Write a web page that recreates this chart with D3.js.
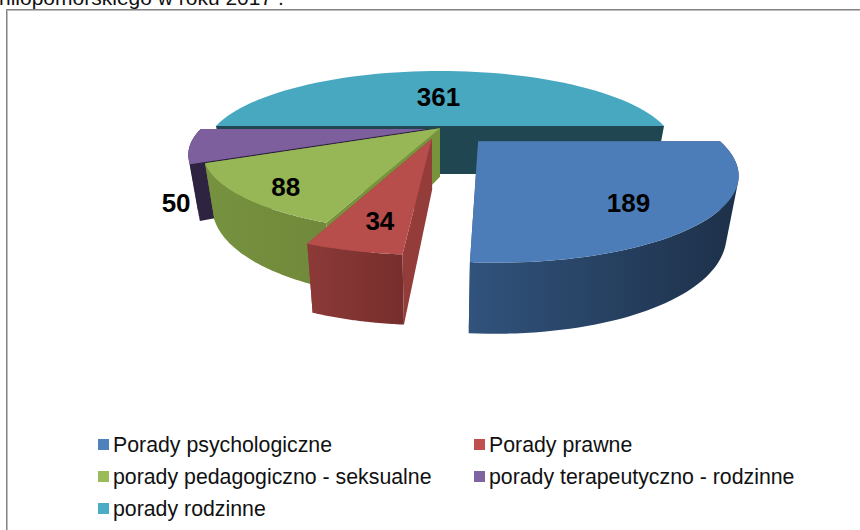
<!DOCTYPE html>
<html>
<head>
<meta charset="utf-8">
<script src="https://cdn.jsdelivr.net/npm/d3@7"></script>
<style>
html,body{margin:0;padding:0;background:#fff;overflow:hidden}
text{font-family:"Liberation Sans",Arial,sans-serif}
</style>
</head>
<body>
<svg id="chart" width="860" height="530"></svg>
<script>
const categories = ["Porady psychologiczne","Porady prawne","porady pedagogiczno - seksualne","porady terapeutyczno - rodzinne","porady rodzinne"];
const values = [189,34,88,50,361];
const topColors = ["#4c7db8","#b84e4c","#97b757","#7c5f9c","#47a8c0"];
const legendColors = ["#4f81bd","#c0504d","#9bbb59","#8064a2","#4bacc6"];
const wallLeft = ["#31537c","#8c3a38","#76923f","#372a4b","#1f4651"];
const wallRight = ["#1d3049","#762e2c","#71883a","#372a4b","#1f4651"];
const radialColors = ["#31537c","#933c3a","#77933c","#2e2340","#1f4651"];
const explodeU = [0.16,-0.035,0,-0.055,0];
const explodeV = [0.2,0.17,0.03,0.04,0];
const sliceRadius = [1.015,1,1,1,1];
const labelRadius = [0.8,0.8,0.8,1.1,0.47];
const labelDx = [-18,6,-4,12,-1.5];
const labelDy = [3,0,7,55,0];
const titleFragment = "nilopomorskiego w roku 2017 .";

const svg = d3.select("#chart");
svg.append("text").attr("x",-1).attr("y",5).attr("font-size",21).attr("fill","#111").text(titleFragment);
svg.append("rect").attr("x",7.5).attr("y",10.5).attr("width",870).attr("height",540)
  .attr("fill","none").attr("stroke","#bdbdbd").attr("stroke-width",1);
svg.append("rect").attr("x",6.5).attr("y",9.5).attr("width",870).attr("height",540)
  .attr("fill","none").attr("stroke","#858585").attr("stroke-width",1);

const cx=440, cy=126, R=224, Q=71.5, k=0.30;
const wall = d3.scaleLinear().domain([0,1]).range([48,67]);
const project = (u,v,bottom) => {
  const s = 1/(1-k*v);
  const x = cx + R*u*s, y = cy + Q*v*s;
  return bottom ? [cx+(x-cx)*0.96, y+wall(v)] : [x,y];
};
const pie = d3.pie().sort(null).startAngle(Math.PI/2).endAngle(Math.PI*2.5);
const arcs = pie(values);
const defs = svg.append("defs");
const line = d3.line();
const STEPS = 60;
const rim = (a,i,bottom) => d3.range(0,STEPS+1).map(t=>{
  const th = a.startAngle+(a.endAngle-a.startAngle)*t/STEPS;
  return project(explodeU[i]+sliceRadius[i]*Math.sin(th), explodeV[i]-sliceRadius[i]*Math.cos(th), bottom);
});
const spoke = (i,th) => {
  const u=explodeU[i]+sliceRadius[i]*Math.sin(th), v=explodeV[i]-sliceRadius[i]*Math.cos(th);
  return [project(explodeU[i],explodeV[i],false),project(u,v,false),project(u,v,true),project(explodeU[i],explodeV[i],true)];
};
const order = [4,3,2,1,0];
order.forEach(i=>{
  const a = arcs[i];
  const g = svg.append("g");
  const top = rim(a,i,false), bot = rim(a,i,true);
  const xs = top.concat(bot).map(p=>p[0]);
  const gr = defs.append("linearGradient").attr("id","w"+i).attr("gradientUnits","userSpaceOnUse")
    .attr("x1",d3.min(xs)).attr("x2",d3.max(xs)).attr("y1",0).attr("y2",0);
  gr.append("stop").attr("offset",0).attr("stop-color",wallLeft[i]);
  gr.append("stop").attr("offset",1).attr("stop-color",wallRight[i]);
  g.append("path").attr("d",line(spoke(i,a.endAngle))+"Z").attr("fill",radialColors[i]);
  if(i!==4){
    const quads = d3.range(STEPS).map(t=>{
      const q=[top[t],top[t+1],bot[t+1],bot[t]];
      if(d3.polygonArea(q)<0) q.reverse();
      return line(q)+"Z";
    }).join("");
    g.append("path").attr("d",quads).attr("fill-rule","nonzero").attr("fill","url(#w"+i+")");
  }
  g.append("path").attr("d",line(spoke(i,a.startAngle))+"Z").attr("fill",radialColors[i]);
  g.append("path").attr("d",line([project(explodeU[i],explodeV[i],false)].concat(top))+"Z").attr("fill",topColors[i]);
});
arcs.forEach((a,i)=>{
  const th=(a.startAngle+a.endAngle)/2;
  const p=project(explodeU[i]+labelRadius[i]*Math.sin(th),explodeV[i]-labelRadius[i]*Math.cos(th),false);
  svg.append("text").attr("x",p[0]+labelDx[i]).attr("y",p[1]+labelDy[i]+9.3)
    .attr("text-anchor","middle").attr("font-size",26).attr("font-weight","bold").attr("fill","#000").text(values[i]);
});
const colX = d3.scalePoint().domain([0,1]).range([98,474]);
const rowY = d3.scalePoint().domain([0,1,2]).range([445,509]);
categories.forEach((c,i)=>{
  const x=colX(i%2), y=rowY(Math.floor(i/2));
  svg.append("rect").attr("x",x).attr("y",y-6).attr("width",11).attr("height",11).attr("fill",legendColors[i]);
  svg.append("text").attr("x",x+15).attr("y",y+7).attr("font-size",21.3).attr("fill","#111").text(c);
});
</script>
</body>
</html>
